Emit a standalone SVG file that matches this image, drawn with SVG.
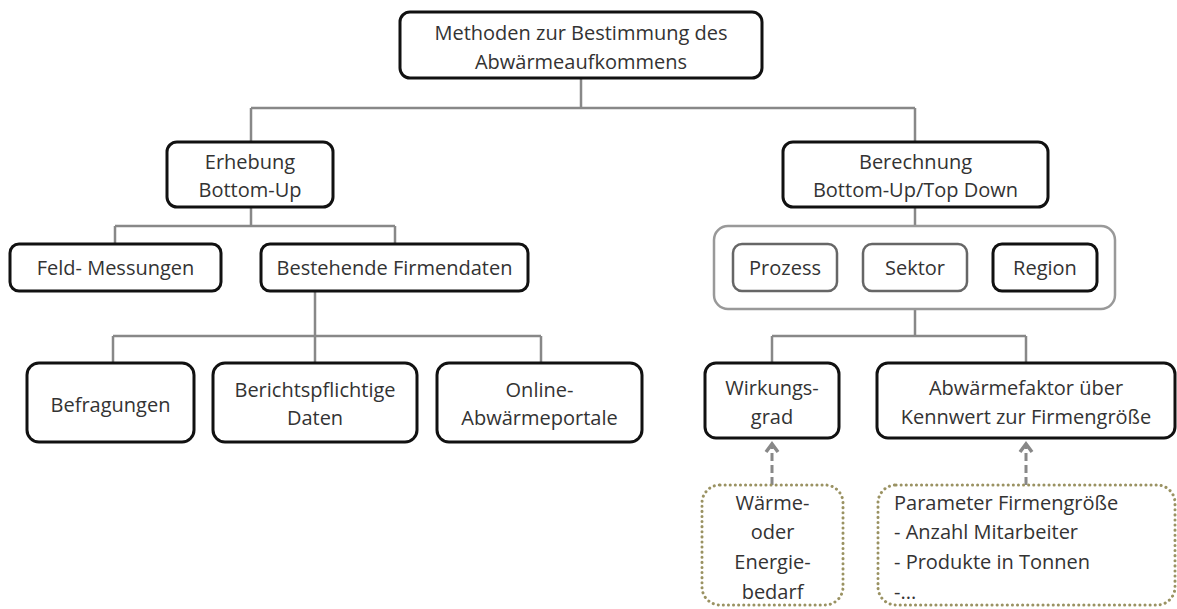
<svg xmlns="http://www.w3.org/2000/svg" width="1177" height="609" viewBox="0 0 1177 609">
<style>
.box{fill:#fff;stroke:#111;stroke-width:3}
.gbox{fill:#fff;stroke:#666;stroke-width:2.5}
.cont{fill:none;stroke:#999;stroke-width:2.5}
.dot{fill:#fff;stroke:#9a9262;stroke-width:3;stroke-dasharray:0.1 5;stroke-linecap:round}
.ln{fill:none;stroke:#888;stroke-width:2.5}
.dash{fill:none;stroke:#888;stroke-width:3;stroke-dasharray:8 4}
text{font-family:"Open Sans","Liberation Sans",sans-serif;font-size:20px;fill:#333;text-anchor:middle}
.l{text-anchor:start}
</style>
<defs>
<marker id="chev" viewBox="0 0 14 16" refX="11" refY="8" markerWidth="14" markerHeight="16" markerUnits="userSpaceOnUse" orient="auto" overflow="visible">
<path d="M3,2 L11,8 L3,14" fill="none" stroke="#888" stroke-width="3.5"/>
</marker>
</defs>
<g id="connectors">
<path class="ln" d="M581,78 V108 M251,108 H915 M251,108 V142 M915,108 V142"/>
<path class="ln" d="M251,207 V226 M115,226 H395 M115,226 V244 M395,226 V244"/>
<path class="ln" d="M315,291 V363 M113,336 H541 M113,336 V363 M541,336 V363"/>
<path class="ln" d="M915,207 V226"/>
<path class="ln" d="M915,309 V336 M772,336 H1026 M772,336 V363 M1026,336 V363"/>
<path class="dash" d="M772,485 V444" marker-end="url(#chev)"/>
<path class="dash" d="M1026,485 V444" marker-end="url(#chev)"/>
</g>
<g id="root"><rect class="box" x="400" y="12" width="362" height="66" rx="10"/>
<text x="581" y="40">Methoden zur Bestimmung des</text><text x="581" y="69">Abwärmeaufkommens</text></g>
<g id="erhebung"><rect class="box" x="167" y="142" width="166" height="65" rx="10"/>
<text x="250" y="169">Erhebung</text><text x="250" y="197">Bottom-Up</text></g>
<g id="feld"><rect class="box" x="10" y="244" width="211" height="47" rx="9"/>
<text x="115.5" y="275">Feld- Messungen</text></g>
<g id="bestehende"><rect class="box" x="261" y="244" width="267" height="47" rx="9"/>
<text x="394.5" y="275">Bestehende Firmendaten</text></g>
<g id="befragungen"><rect class="box" x="27" y="363" width="167" height="79" rx="12"/>
<text x="110.5" y="412">Befragungen</text></g>
<g id="berichtspflichtige"><rect class="box" x="213" y="363" width="204" height="79" rx="12"/>
<text x="315" y="397">Berichtspflichtige</text><text x="315" y="425">Daten</text></g>
<g id="online"><rect class="box" x="437" y="363" width="205" height="79" rx="12"/>
<text x="539.5" y="397">Online-</text><text x="539.5" y="425">Abwärmeportale</text></g>
<g id="berechnung"><rect class="box" x="783" y="142" width="265" height="65" rx="10"/>
<text x="915.5" y="169">Berechnung</text><text x="915.5" y="197">Bottom-Up/Top Down</text></g>
<g id="container"><rect class="cont" x="714" y="226" width="401" height="83" rx="14"/></g>
<g id="prozess"><rect class="gbox" x="733" y="244" width="104" height="47" rx="9"/>
<text x="785" y="275">Prozess</text></g>
<g id="sektor"><rect class="gbox" x="863" y="244" width="104" height="47" rx="9"/>
<text x="915" y="275">Sektor</text></g>
<g id="region"><rect class="box" x="993" y="244" width="104" height="47" rx="9"/>
<text x="1045" y="275">Region</text></g>
<g id="wirkungsgrad"><rect class="box" x="705" y="363" width="134" height="75" rx="11"/>
<text x="772" y="395">Wirkungs-</text><text x="772" y="424">grad</text></g>
<g id="abwaermefaktor"><rect class="box" x="877" y="363" width="298" height="75" rx="11"/>
<text x="1026" y="395">Abwärmefaktor über</text><text x="1026" y="424">Kennwert zur Firmengröße</text></g>
<g id="waermebedarf"><rect class="dot" x="702" y="485" width="141" height="120" rx="18"/>
<text x="772.5" y="510">Wärme-</text><text x="772.5" y="539">oder</text><text x="772.5" y="569">Energie-</text><text x="772.5" y="599">bedarf</text></g>
<g id="parameter"><rect class="dot" x="878" y="485" width="297" height="120" rx="18"/>
<text class="l" x="894" y="510">Parameter Firmengröße</text><text class="l" x="894" y="539">- Anzahl Mitarbeiter</text><text class="l" x="894" y="569">- Produkte in Tonnen</text><text class="l" x="894" y="599">-...</text></g>
</svg>
